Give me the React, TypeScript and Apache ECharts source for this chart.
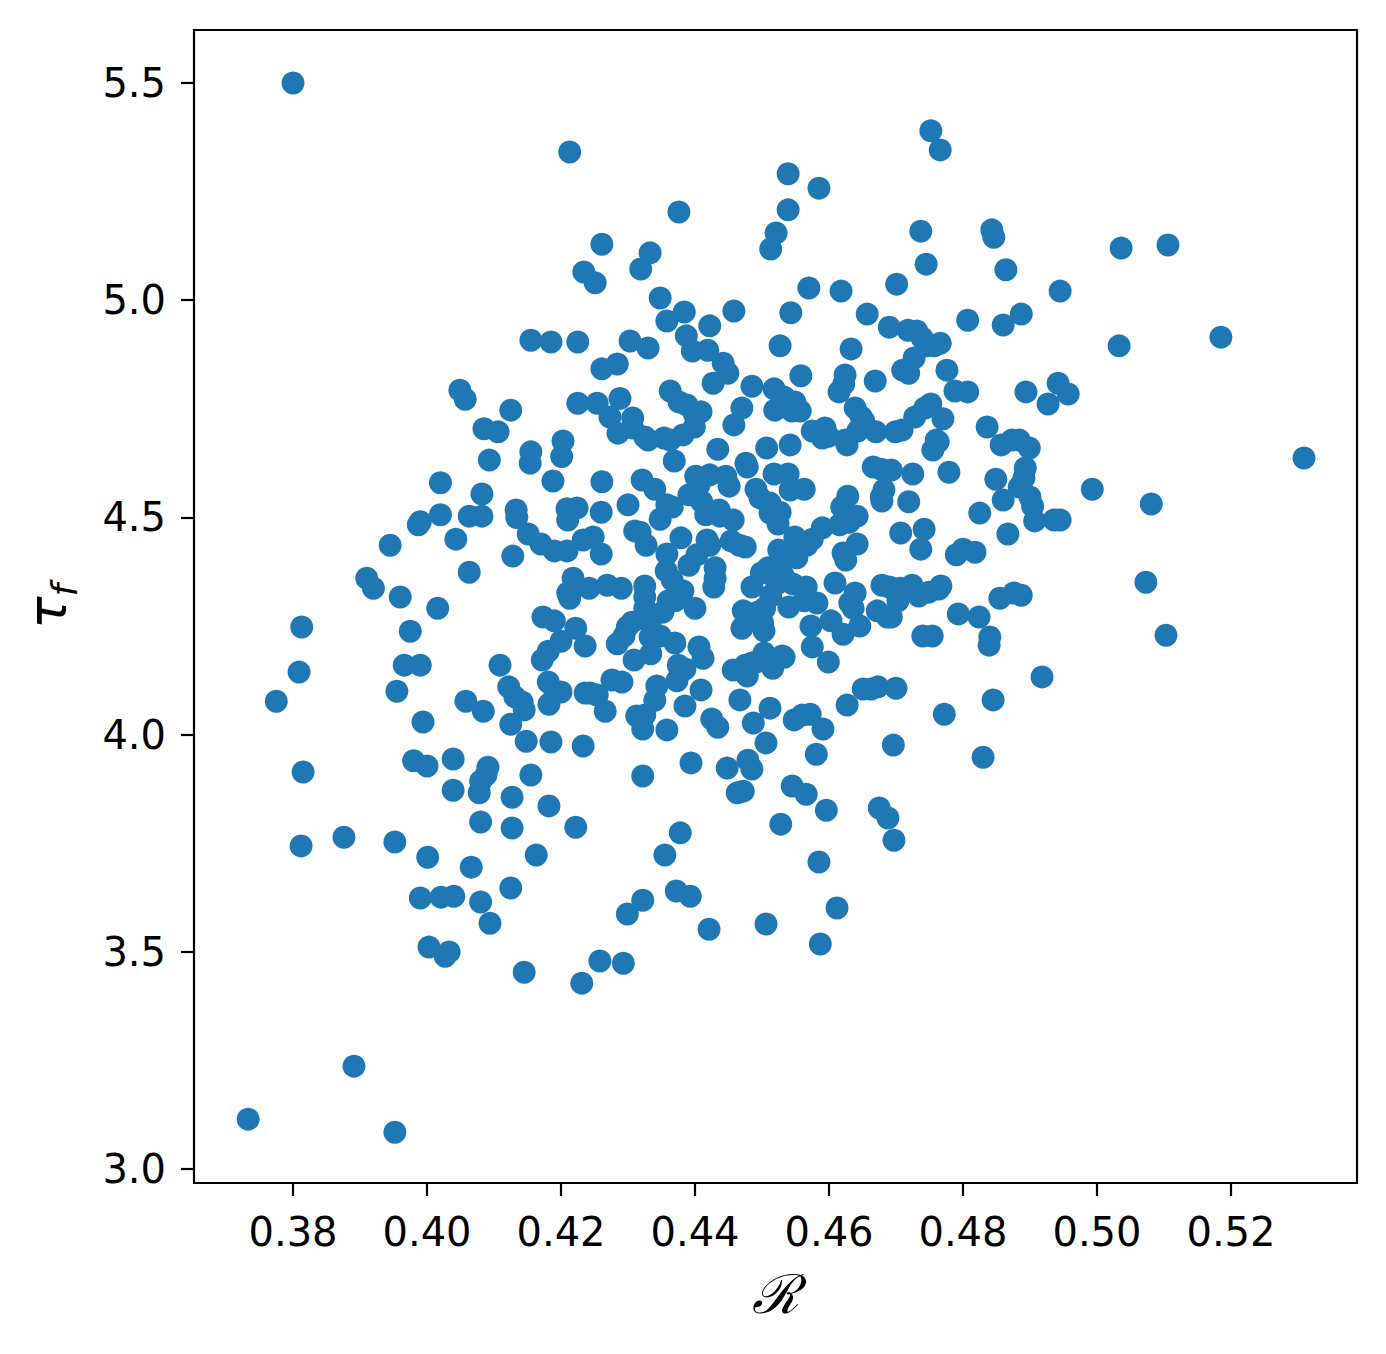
import React, { useEffect, useRef } from "react";
import * as echarts from "echarts";

// R (x) and tau_f (y) pairs
const POINTS: [number, number][] = [
  [0.380, 5.500], [0.3733, 3.115], [0.3891, 3.237], [0.3952, 3.085], [0.3775, 4.077],
  [0.3809, 4.144], [0.3813, 4.248], [0.3815, 3.914], [0.3812, 3.744], [0.3876, 3.764],
  [0.391, 4.36], [0.392, 4.337], [0.3945, 4.436], [0.396, 4.317], [0.3975, 4.238],
  [0.3966, 4.16], [0.399, 4.16], [0.3955, 4.10], [0.3952, 3.753], [0.398, 3.94],
  [0.400, 3.928], [0.3994, 4.029], [0.3987, 4.483], [0.399, 4.49], [0.4016, 4.291],
  [0.402, 4.58], [0.402, 4.506], [0.4043, 4.45], [0.4049, 4.793], [0.4057, 4.772],
  [0.4063, 4.374], [0.4063, 4.503], [0.4058, 4.077], [0.4039, 3.944], [0.4039, 3.872],
  [0.4001, 3.718], [0.399, 3.624], [0.4003, 3.511], [0.4021, 3.626], [0.404, 3.628],
  [0.4027, 3.490], [0.4033, 3.50], [0.4066, 3.695], [0.4082, 4.503], [0.4082, 4.554],
  [0.4085, 4.704], [0.4093, 4.632], [0.4106, 4.697], [0.4084, 4.054], [0.4109, 4.16],
  [0.4091, 3.925], [0.4088, 3.907], [0.408, 3.893], [0.4078, 3.866], [0.408, 3.799],
  [0.408, 3.615], [0.4094, 3.566], [0.4125, 4.747], [0.4133, 4.517], [0.4134, 4.50],
  [0.4128, 4.411], [0.4122, 4.11], [0.4131, 4.087], [0.4125, 4.024], [0.4127, 3.856],
  [0.4127, 3.785], [0.4125, 3.647], [0.4142, 4.075], [0.4145, 4.057], [0.4148, 3.985],
  [0.4155, 3.907], [0.4145, 3.453], [0.4155, 4.908], [0.4155, 4.651], [0.4154, 4.625],
  [0.4151, 4.462], [0.417, 4.439], [0.4173, 4.271], [0.4172, 4.172], [0.4181, 4.121],
  [0.4182, 4.07], [0.4185, 3.983], [0.4182, 3.836], [0.4163, 3.723], [0.4185, 4.904],
  [0.4188, 4.584], [0.419, 4.423], [0.419, 4.262], [0.4181, 4.192], [0.4191, 4.096],
  [0.42, 4.098], [0.42, 4.215], [0.4201, 4.64], [0.4203, 4.676], [0.4209, 4.52],
  [0.421, 4.494], [0.4209, 4.423], [0.421, 4.326], [0.4213, 4.314], [0.4218, 4.36],
  [0.4221, 4.342], [0.4225, 4.763], [0.4225, 4.904], [0.4213, 5.341], [0.4224, 4.522],
  [0.4222, 4.245], [0.4222, 3.787], [0.4231, 3.428], [0.4233, 3.974], [0.4234, 5.065],
  [0.4236, 4.204], [0.4233, 4.448], [0.4236, 4.096], [0.4242, 4.337], [0.4243, 4.096],
  [0.4251, 5.04], [0.4248, 4.455], [0.4254, 4.763], [0.4254, 4.091], [0.426, 4.416],
  [0.4261, 5.129], [0.4261, 4.842], [0.4261, 4.582], [0.426, 4.512], [0.4258, 3.479],
  [0.4266, 4.054], [0.4269, 4.344], [0.4273, 4.731], [0.4276, 4.126], [0.4284, 4.209],
  [0.4284, 4.853], [0.4288, 4.774], [0.4285, 4.694], [0.429, 4.337], [0.4291, 4.121],
  [0.4293, 3.474], [0.4294, 4.227], [0.4299, 4.248], [0.4299, 3.587], [0.43, 4.529],
  [0.4303, 4.906], [0.4307, 4.729], [0.4307, 4.706], [0.4306, 4.259], [0.4309, 4.172],
  [0.431, 4.469], [0.4313, 4.043], [0.4318, 4.466], [0.4319, 5.072], [0.4321, 4.586],
  [0.4322, 3.905], [0.4322, 3.619], [0.4322, 4.013], [0.4325, 4.317], [0.4325, 4.342],
  [0.4325, 4.291], [0.4327, 4.436], [0.4325, 4.045], [0.4325, 4.685], [0.433, 4.890],
  [0.4333, 5.109], [0.4333, 4.257], [0.4333, 4.225], [0.4334, 4.186], [0.433, 4.678],
  [0.434, 4.565], [0.434, 4.079], [0.4343, 4.112], [0.4348, 5.005], [0.4348, 4.496],
  [0.4348, 4.227], [0.4352, 4.282], [0.4354, 4.683], [0.4355, 3.723], [0.4358, 4.011],
  [0.4358, 4.952], [0.4357, 4.377], [0.4358, 4.529], [0.4358, 4.416], [0.436, 4.308],
  [0.4363, 4.678], [0.4363, 4.791], [0.4366, 4.524], [0.4366, 4.356], [0.4369, 4.63],
  [0.437, 4.308], [0.437, 4.211], [0.4373, 4.124], [0.4372, 3.64], [0.4375, 4.16],
  [0.4376, 5.203], [0.4376, 4.766], [0.4378, 3.774], [0.4379, 4.453], [0.4382, 4.331],
  [0.4384, 4.973], [0.4385, 4.151], [0.4387, 4.918], [0.4382, 4.69], [0.4385, 4.066],
  [0.4388, 4.759], [0.4391, 4.552], [0.4391, 4.390], [0.4393, 3.628], [0.4394, 3.935],
  [0.4396, 4.883], [0.4399, 4.708], [0.4399, 4.738], [0.44, 4.291], [0.4401, 4.595],
  [0.4403, 4.414], [0.4406, 4.202], [0.4406, 4.575], [0.4409, 4.743], [0.4409, 4.103],
  [0.441, 4.536], [0.4412, 4.176], [0.4416, 4.506], [0.4418, 4.448], [0.4419, 4.885],
  [0.4421, 3.552], [0.4422, 4.941], [0.4422, 4.598], [0.4422, 4.436], [0.4425, 4.036],
  [0.4427, 4.809], [0.4428, 4.340], [0.443, 4.384], [0.443, 4.36], [0.4434, 4.017],
  [0.4434, 4.657], [0.4436, 4.517], [0.4437, 4.503], [0.4442, 4.855], [0.4446, 4.595],
  [0.4448, 3.923], [0.4449, 4.832], [0.4451, 4.572], [0.4454, 4.446], [0.4457, 4.494],
  [0.4458, 4.713], [0.4458, 4.975], [0.4457, 4.149], [0.4463, 3.866], [0.4466, 4.436],
  [0.4467, 4.080], [0.447, 4.752], [0.447, 4.245], [0.4472, 4.285], [0.4472, 3.870],
  [0.4475, 4.432], [0.4475, 4.16], [0.4476, 4.625], [0.4478, 4.135], [0.4478, 4.616],
  [0.4479, 3.941], [0.4482, 4.274], [0.4485, 4.802], [0.4485, 4.340], [0.4485, 3.921],
  [0.4487, 4.027], [0.4485, 4.165], [0.4491, 4.565], [0.4493, 4.282], [0.4491, 4.167],
  [0.4497, 4.545], [0.4499, 4.372], [0.4501, 4.257], [0.4503, 4.239], [0.4503, 4.188],
  [0.4504, 4.291], [0.4506, 3.981], [0.4506, 3.564], [0.4507, 4.660], [0.4509, 4.384],
  [0.4512, 4.533], [0.4512, 4.51], [0.4512, 4.061], [0.4513, 5.118], [0.4513, 4.319],
  [0.4516, 4.153], [0.4518, 4.60], [0.4518, 4.796], [0.4519, 4.747], [0.4521, 5.155],
  [0.4522, 4.347], [0.4524, 4.485], [0.4527, 4.895], [0.4527, 4.512], [0.4525, 4.425],
  [0.4528, 3.794], [0.453, 4.181], [0.4531, 4.368], [0.4533, 4.777], [0.4533, 4.178],
  [0.4536, 4.754], [0.4536, 4.411], [0.4539, 5.291], [0.4539, 5.208], [0.4539, 4.60],
  [0.454, 4.294], [0.4542, 4.563], [0.4542, 4.667], [0.4543, 4.971], [0.4545, 4.745],
  [0.4545, 3.882], [0.4546, 4.347], [0.4548, 4.034], [0.4549, 4.766], [0.4549, 4.455],
  [0.4552, 4.439], [0.4552, 4.407], [0.4557, 4.745], [0.4558, 4.826], [0.456, 4.045],
  [0.4563, 4.565], [0.4563, 4.308], [0.4566, 4.340], [0.4566, 3.863], [0.4567, 4.436],
  [0.457, 5.028], [0.4572, 4.047], [0.4573, 4.250], [0.4575, 4.202], [0.4575, 4.45],
  [0.4575, 4.699], [0.4581, 3.955], [0.4582, 4.303], [0.4585, 5.258], [0.4585, 3.707],
  [0.4587, 3.518], [0.459, 4.476], [0.459, 4.683], [0.4591, 4.013], [0.4594, 4.706],
  [0.4596, 3.826], [0.4599, 4.167], [0.4599, 4.687], [0.4603, 4.262], [0.4609, 4.349],
  [0.4612, 3.601], [0.4615, 4.789], [0.4616, 4.483], [0.4618, 5.021], [0.4619, 4.524],
  [0.4621, 4.231], [0.4621, 4.418], [0.4622, 4.807], [0.4624, 4.828], [0.4624, 4.678],
  [0.4625, 4.402], [0.4627, 4.068], [0.4627, 4.667], [0.4628, 4.549], [0.463, 4.489],
  [0.4631, 4.303], [0.4633, 4.888], [0.4636, 4.291], [0.4639, 4.326], [0.4639, 4.752],
  [0.4642, 4.439], [0.4642, 4.503], [0.4643, 4.699], [0.4646, 4.250], [0.4648, 4.731],
  [0.4651, 4.105], [0.4652, 4.722], [0.4657, 4.968], [0.4663, 4.105], [0.4666, 4.616],
  [0.4669, 4.814], [0.467, 4.697], [0.4672, 4.285], [0.4673, 4.110], [0.4675, 3.831],
  [0.4678, 4.611], [0.4678, 4.547], [0.4679, 4.344], [0.4679, 4.538], [0.4682, 4.563],
  [0.4687, 4.271], [0.4688, 3.808], [0.469, 4.340], [0.469, 4.938], [0.4693, 4.271],
  [0.4693, 4.609], [0.4696, 3.976], [0.4697, 3.757], [0.4699, 4.697], [0.47, 4.107],
  [0.4701, 5.037], [0.4703, 4.308], [0.4706, 4.337], [0.4707, 4.464], [0.4709, 4.701],
  [0.471, 4.839], [0.4718, 4.931], [0.4719, 4.536], [0.4719, 4.832], [0.4724, 4.344],
  [0.4725, 4.600], [0.4727, 4.867], [0.4728, 4.731], [0.4731, 4.929], [0.4734, 4.319],
  [0.4737, 4.427], [0.4737, 5.159], [0.4739, 4.913], [0.474, 4.227], [0.4742, 4.473],
  [0.4743, 4.752], [0.4745, 5.083], [0.4746, 4.895], [0.4749, 4.328], [0.4752, 5.390],
  [0.4752, 4.761], [0.4754, 4.227], [0.4755, 4.655], [0.4757, 4.895], [0.476, 4.678],
  [0.4763, 4.674], [0.4764, 4.335], [0.4766, 5.346], [0.4766, 4.901], [0.4767, 4.342],
  [0.477, 4.727], [0.4772, 4.047], [0.4776, 4.839], [0.4779, 4.604], [0.4788, 4.791],
  [0.479, 4.414], [0.4793, 4.278], [0.48, 4.427], [0.4807, 4.954], [0.4807, 4.789],
  [0.4818, 4.420], [0.4824, 4.271], [0.4825, 4.510], [0.483, 3.948], [0.4836, 4.708],
  [0.4839, 4.206], [0.484, 4.225], [0.4843, 5.162], [0.4845, 4.080], [0.4846, 5.145],
  [0.4849, 4.588], [0.4855, 4.314], [0.4857, 4.667], [0.486, 4.943], [0.486, 4.540],
  [0.4864, 5.070], [0.4867, 4.462], [0.4873, 4.678], [0.4876, 4.326], [0.4884, 4.570],
  [0.4884, 4.678], [0.4887, 4.968], [0.4887, 4.321], [0.4891, 4.591], [0.4893, 4.614],
  [0.4894, 4.789], [0.4899, 4.660], [0.49, 4.547], [0.4904, 4.526], [0.4907, 4.492],
  [0.4918, 4.133], [0.4927, 4.761], [0.4936, 4.494], [0.4942, 4.809], [0.4945, 5.021],
  [0.4945, 4.494], [0.4957, 4.784], [0.4993, 4.565], [0.5033, 4.895], [0.5036, 5.120],
  [0.5073, 4.351], [0.5081, 4.531], [0.5103, 4.229], [0.5106, 5.127], [0.5185, 4.915],
  [0.5309, 4.637],
];

const X_TICKS = [0.38, 0.4, 0.42, 0.44, 0.46, 0.48, 0.5, 0.52];
const Y_TICKS = [3.0, 3.5, 4.0, 4.5, 5.0, 5.5];
const X_RANGE = [0.36522, 0.53881];
const Y_RANGE = [2.968, 5.622];

export default function App() {
  const ref = useRef<HTMLDivElement>(null);
  useEffect(() => {
    if (!ref.current) return;
    const chart = echarts.init(ref.current, undefined, { renderer: "svg" });
    const labelStyle = {
      color: "#000",
      fontFamily: "DejaVu Sans",
      fontSize: 40,
    };
    chart.setOption({
      animation: false,
      backgroundColor: "#fff",
      grid: {
        left: 194,
        top: 30,
        width: 1163,
        height: 1153,
        show: true,
        borderColor: "#000",
        borderWidth: 2.2,
        backgroundColor: "#fff",
      },
      xAxis: {
        type: "value",
        min: X_RANGE[0],
        max: X_RANGE[1],
        splitLine: { show: false },
        axisLine: { show: false },
        axisTick: {
          show: true,
          length: 13,
          lineStyle: { color: "#000", width: 2.2 },
          customValues: X_TICKS,
        },
        axisLabel: {
          ...labelStyle,
          margin: 29,
          customValues: X_TICKS,
          formatter: (v: number) => v.toFixed(2),
        },
        name: "ℛ",
        nameLocation: "middle",
        nameGap: 84,
        nameTextStyle: {
          color: "#000",
          fontFamily: "DejaVu Serif",
          fontStyle: "italic",
          fontSize: 54,
        },
      },
      yAxis: {
        type: "value",
        min: Y_RANGE[0],
        max: Y_RANGE[1],
        splitLine: { show: false },
        axisLine: { show: false },
        axisTick: {
          show: true,
          length: 13,
          lineStyle: { color: "#000", width: 2.2 },
          customValues: Y_TICKS,
        },
        axisLabel: {
          ...labelStyle,
          margin: 28,
          customValues: Y_TICKS,
          formatter: (v: number) => v.toFixed(1),
        },
        name: "{t|τ}{f|f}",
        nameLocation: "middle",
        nameRotate: 90,
        nameGap: 120,
        nameTextStyle: {
          rich: {
            t: {
              color: "#000",
              fontFamily: "DejaVu Sans",
              fontStyle: "italic",
              fontSize: 54,
              verticalAlign: "bottom",
            },
            f: {
              color: "#000",
              fontFamily: "DejaVu Sans",
              fontStyle: "italic",
              fontSize: 36,
              verticalAlign: "bottom",
              padding: [0, 0, -8, 0],
            },
          },
        },
      },
      series: [
        {
          type: "scatter",
          data: POINTS,
          symbol: "circle",
          symbolSize: 23,
          itemStyle: { color: "#1f77b4", opacity: 1 },
          clip: false,
        },
      ],
    });
    return () => chart.dispose();
  }, []);
  return (
    <div
      ref={ref}
      style={{ position: "absolute", left: 0, top: 0, width: 1386, height: 1354 }}
    />
  );
}
